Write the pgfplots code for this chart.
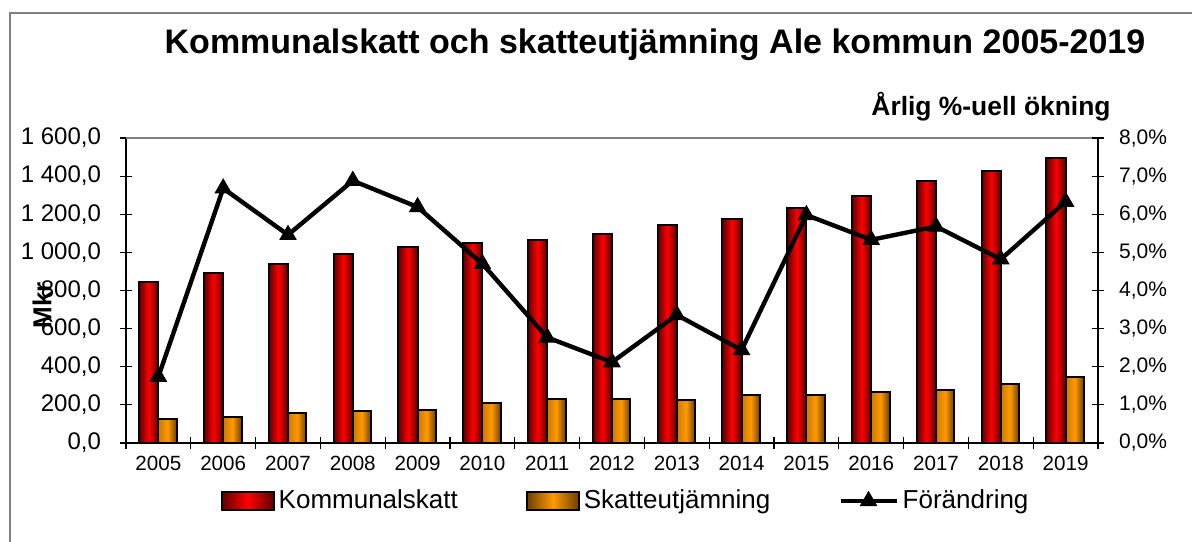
\documentclass[border=0pt]{standalone}
\usepackage{pgfplots}
\pgfplotsset{compat=1.18}
\usepackage{pgfplotstable}
\usepackage{fontspec}
\setmainfont{Liberation Sans}
\definecolor{kred}{RGB}{255,0,0}
\definecolor{kdred}{RGB}{95,0,0}
\definecolor{kor}{RGB}{255,153,0}
\definecolor{kdor}{RGB}{110,62,0}
\definecolor{framegray}{RGB}{128,128,128}
\pgfplotsset{
 barleg/.style={legend image code/.code={\draw[##1] (0pt,-4.5pt) rectangle (26pt,4.5pt);}},
 lineleg/.style={legend image code/.code={\draw[mark repeat=2,mark phase=2,##1] plot coordinates {(0pt,0pt) (14pt,0pt) (28pt,0pt)};}},
}
\pgfplotstableread{
x komm skatt pct
0 846 124 1.74
1 890 135 6.68
2 937 159 5.46
3 992 169 6.88
4 1027 175 6.19
5 1048 208 4.70
6 1065 229 2.77
7 1095 229 2.12
8 1144 226 3.36
9 1175 250 2.44
10 1233 253 5.98
11 1296 268 5.33
12 1375 280 5.68
13 1427 308 4.82
14 1495 348 6.33
}\datatable
\begin{document}
\begin{tikzpicture}
\useasboundingbox (0pt,0pt) rectangle (596pt,-270.5pt);
\draw[framegray, line width=0.8pt] (5pt,-271pt) -- (5pt,-6.5pt) -- (597pt,-6.5pt);
\node[font=\bfseries\fontsize{17}{17}\selectfont] at (327.5pt,-22.5pt) {Kommunalskatt och skatteutjämning Ale kommun 2005-2019};
\node[font=\bfseries\fontsize{13.2}{13.2}\selectfont] at (495.5pt,-53.5pt) {Årlig \%-uell ökning};
\begin{axis}[
 at={(63pt,-221.5pt)}, anchor=south west,
 width=486pt, height=152.5pt, scale only axis,
 xmin=-0.5, xmax=14.5, ymin=0, ymax=1600,
 axis x line*=bottom, axis y line*=left,
 axis line style={black, line width=0.7pt},
 xtick={-0.5,0.5,...,14.5}, xticklabels={},
 extra x ticks={0,1,...,14},
 extra x tick labels={2005,2006,2007,2008,2009,2010,2011,2012,2013,2014,2015,2016,2017,2018,2019},
 extra x tick style={major tick length=0pt, tick label style={font=\fontsize{10.3}{10.3}\selectfont, yshift=-3pt}},
 ytick={0,200,...,1600},
 yticklabels={{0,0},{200,0},{400,0},{600,0},{800,0},{1 000,0},{1 200,0},{1 400,0},{1 600,0}},
 y tick label style={font=\fontsize{12}{12}\selectfont, xshift=-6pt},
 tick align=center, major tick length=6pt,
 tick style={black, line width=0.6pt},
 clip=false,
]
\draw[framegray, line width=0.8pt] (rel axis cs:0,1) -- (rel axis cs:1,1);
\pgfplotsinvokeforeach{0,...,14}{
\addplot[ybar, bar width=9.6pt, bar shift=-4.8pt, draw=black, line width=1pt,
  left color=kdred, right color=kdred, middle color=kred, restrict x to domain=#1:#1] table[x=x,y=komm]{\datatable};
\addplot[ybar, bar width=9.2pt, bar shift=4.6pt, draw=black, line width=1pt,
  left color=kor!80!black, right color=kdor, middle color=kor, restrict x to domain=#1:#1] table[x=x,y=skatt]{\datatable};
}
\node[rotate=90, font=\bfseries\fontsize{13}{13}\selectfont] at (rel axis cs:-0.0864,0.452) {Mkr};
\end{axis}
\begin{axis}[
 at={(63pt,-221.5pt)}, anchor=south west,
 width=486pt, height=152.5pt, scale only axis,
 xmin=-0.5, xmax=14.5, ymin=0, ymax=8,
 hide x axis, axis y line*=right,
 axis line style={black, line width=0.7pt},
 ytick={0,1,...,8},
 yticklabels={{0,0\%},{1,0\%},{2,0\%},{3,0\%},{4,0\%},{5,0\%},{6,0\%},{7,0\%},{8,0\%}},
 y tick label style={font=\fontsize{10.5}{10.5}\selectfont, xshift=4pt},
 tick align=center, major tick length=6pt,
 tick style={black, line width=0.6pt},
 clip=false,
 legend columns=3,
 legend style={at={(0.515,-0.19)}, anchor=center, draw=none, fill=none,
   font=\fontsize{13}{13}\selectfont,
   /tikz/every even column/.append style={column sep=32pt}},
 legend cell align=left,
]
\addlegendimage{barleg, draw=black, line width=1pt, left color=kdred, right color=kdred, middle color=kred}
\addlegendentry{Kommunalskatt}
\addlegendimage{barleg, draw=black, line width=1pt, left color=kdor, right color=kdor, middle color=kor}
\addlegendentry{Skatteutjämning}
\addplot[lineleg, black, line width=2.2pt, mark=triangle*, mark size=4.6pt, mark options={solid, line width=0.5pt}] table[x=x,y=pct]{\datatable};
\addlegendentry{Förändring}
\end{axis}
\end{tikzpicture}
\end{document}
